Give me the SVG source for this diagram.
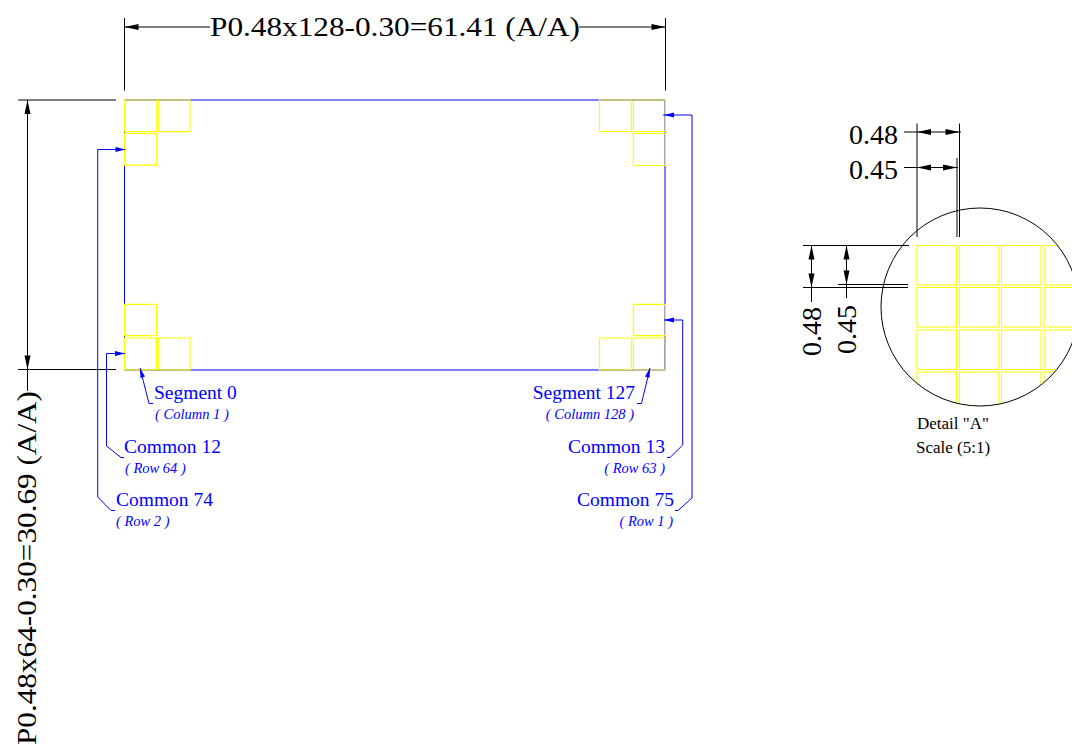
<svg xmlns="http://www.w3.org/2000/svg" width="1072" height="745" viewBox="0 0 1072 745">
<style>
text{font-family:"Liberation Serif","Times New Roman",serif}
.k{fill:#000}.b{fill:#0000ff}
.big{font-size:28px}.mid{font-size:19.5px}.sm{font-size:14.5px;font-style:italic}.dt{font-size:17px}
.ln{fill:none;stroke:#000;stroke-width:1}
.bl{fill:none;stroke:#0000ff;stroke-width:1}
.y{fill:none;stroke:#ffff00;stroke-width:1.2}
.ah{fill:#000;stroke:none}.bh{fill:#0000ff;stroke:none}
</style>
<defs>
<clipPath id="cc"><circle cx="980" cy="307" r="99"/></clipPath>
<path id="ya" d="M0 0h39.5v39.5h-39.5z"/>
</defs>
<rect width="1072" height="745" fill="#fff"/>
<g id="panel">
<path class="bl" d="M124.5 100H665V370H124.5Z"/>
</g>
<g id="cells-top-left">
<path class="y" d="M124.5 100h32.3v31.7h-32.3zM158.2 100h31.8v31.7h-31.8zM124.5 133.5h32.3v31.6h-32.3z"/>
</g>
<g id="cells-top-right">
<path class="y" d="M599.5 100h32v31.5h-32zM633.3 100h32v31.5h-32zM633.3 133.5h32v32h-32z"/>
</g>
<g id="cells-bottom-left">
<path class="y" d="M124.5 304.3h32v31.4h-32zM124.5 338h32v31.8h-32zM158.2 338h31.8v31.8h-31.8z"/>
</g>
<g id="cells-bottom-right">
<path class="y" d="M633.3 304.3h32v31.4h-32zM633.3 338h32v31.8h-32zM599.5 338h32v31.8h-32z"/>
<path d="M633 370H665.5V338" fill="none" stroke="#bbb" stroke-width="1"/>
</g>
<g id="connectors">
<path class="ln" d="M124.5 18V90.500M665.500 18V90.500M124.500 27H210M579 27H665.500"/>
<path class="ln" d="M18 100H116M18 369.500H116M27.500 100V391"/>
<path class="ah" d="M124.500 27l14-3v6zM665.500 27l-14-3v6zM27.500 100l-3 14h6zM27.500 369.500l-3-14h6z"/>
<path class="bl" d="M125 149.500H97.700V497L111 510.500H115"/>
<path class="bh" d="M125.500 149.500l-10-2.500v5z"/>
<path class="bl" d="M125 353.500H106.500V446L121 457.500H124"/>
<path class="bh" d="M125 353.500l-10-2.500v5z"/>
<path class="bl" d="M140 368L149 403.500H153"/>
<path class="bh" d="M140 368l0.500 10 4.500-1.500z"/>
<path class="bl" d="M663 115H692V498L678 510.500H675"/>
<path class="bh" d="M664 115l10-2.500v5z"/>
<path class="bl" d="M664 320H682.700V445L670 457.500H667"/>
<path class="bh" d="M664 320l10-2.500v5z"/>
<path class="bl" d="M650 368L641.500 403.500H637"/>
<path class="bh" d="M650 368l-0.500 10-4.500-1.500z"/>
</g>
<g id="top-dim"><text class="big k" x="210" y="36" textLength="370" lengthAdjust="spacingAndGlyphs">P0.48x128-0.30=61.41 (A/A)</text></g>
<g id="left-dim"><text class="big k" transform="translate(36 745) rotate(-90)" x="0" y="0" textLength="354" lengthAdjust="spacingAndGlyphs">P0.48x64-0.30=30.69 (A/A)</text></g>
<g id="label-segment-0"><text class="mid b" x="154" y="399">Segment 0</text><text class="sm b" x="155" y="419">( Column 1 )</text></g>
<g id="label-common-12"><text class="mid b" x="124" y="453">Common 12</text><text class="sm b" x="125" y="473">( Row 64 )</text></g>
<g id="label-common-74"><text class="mid b" x="116" y="506">Common 74</text><text class="sm b" x="116" y="526">( Row 2 )</text></g>
<g id="label-segment-127"><text class="mid b" x="635" y="399" text-anchor="end">Segment 127</text><text class="sm b" x="634" y="419" text-anchor="end">( Column 128 )</text></g>
<g id="label-common-13"><text class="mid b" x="665" y="453" text-anchor="end">Common 13</text><text class="sm b" x="665" y="473" text-anchor="end">( Row 63 )</text></g>
<g id="label-common-75"><text class="mid b" x="674" y="506" text-anchor="end">Common 75</text><text class="sm b" x="673" y="526" text-anchor="end">( Row 1 )</text></g>
<g id="detail-a">
<g clip-path="url(#cc)">
<g class="y">
<use href="#ya" x="917" y="245.500"/><use href="#ya" x="959.500" y="245.500"/><use href="#ya" x="1001.500" y="245.500"/><use href="#ya" x="1044" y="245.500"/>
<use href="#ya" x="917" y="287.500"/><use href="#ya" x="959.500" y="287.500"/><use href="#ya" x="1001.500" y="287.500"/><use href="#ya" x="1044" y="287.500"/>
<use href="#ya" x="917" y="330"/><use href="#ya" x="959.500" y="330"/><use href="#ya" x="1001.500" y="330"/><use href="#ya" x="1044" y="330"/>
<use href="#ya" x="917" y="372"/><use href="#ya" x="959.500" y="372"/><use href="#ya" x="1001.500" y="372"/><use href="#ya" x="1044" y="372"/>
</g>
</g>
<circle class="ln" cx="980" cy="307" r="99"/>
<path class="ln" d="M917 123.500V237M959.500 123.500V237M957 158V237M904 132H961M904 167.500H958M803 245.500H909M803 287.500H908M838 284.500H908M811.500 245.500V302M846.500 245.500V298"/>
<path class="ah" d="M917 132l14-3v6zM959.500 132l-14-3v6zM917 167.500l14-3v6zM957 167.500l-14-3v6zM811.500 245.500l-3 14h6zM811.500 287.500l-3-14h6zM846.500 245.500l-3 14h6zM846.500 284.500l-3-14h6z"/>
<text class="big k" x="849" y="144">0.48</text>
<text class="big k" x="849" y="179">0.45</text>
<text class="big k" transform="translate(821 356) rotate(-90)">0.48</text>
<text class="big k" transform="translate(856 354) rotate(-90)">0.45</text>
<text class="dt k" x="917" y="429">Detail "A"</text>
<text class="dt k" x="916" y="453">Scale (5:1)</text>
</g>
</svg>
